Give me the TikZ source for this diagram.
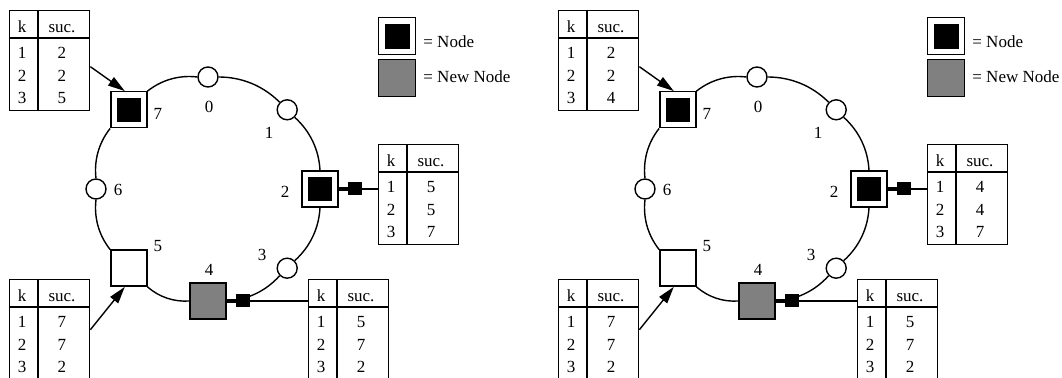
\documentclass[tikz,border=0pt]{standalone}
\usepackage{fontspec}
\setmainfont{Liberation Serif}
\usetikzlibrary{arrows.meta,calc}
\tikzset{
ring/.style  = {line width=0.7pt},
key/.style   = {draw, line width=0.7pt, circle, fill=white, minimum size=10pt, inner sep=0pt},
peer/.style  = {draw, line width=0.7pt, rectangle, fill=white, minimum size=18pt, inner sep=0pt},
live/.style  = {peer, path picture={\fill[black] ([shift={(3pt,3pt)}]path picture bounding box.south west) rectangle ([shift={(-3pt,-3pt)}]path picture bounding box.north east);}},
fresh/.style = {peer, fill=gray},
tab/.style   = {draw, line width=0.7pt, rectangle, minimum width=40pt, minimum height=50pt, inner sep=0pt},
txt/.style   = {font=\fontsize{8.5}{10}\selectfont, inner sep=0pt},
ptr/.style   = {-{Triangle[length=8.5pt,width=5pt]}, line width=0.7pt},
fing/.style  = {-{Rectangle[length=7pt,width=6.5pt]Rectangle[length=4.5pt,width=2pt]}, line width=0.7pt}
}
% successor table: name, top left corner, successors for k = 1,2,3
\newcommand{\suctab}[5]{%
  \node[tab, anchor=north west] (#1) at (#2) {};
  \draw[line width=0.7pt] ($(#1.north west)+(0,28)$) -- ($(#1.north east)+(0,28)$);
  \draw[line width=0.7pt] ($(#1.north west)+(29,0)$) -- ($(#1.south west)+(29,0)$);
  \node[txt, anchor=base] (#1-k) at ($(#1.north west)+(13,23)$) {k};
  \node[txt, anchor=base] (#1-s) at ($(#1.north west)+(53,23)$) {suc.};
  \foreach \r/\v [count=\n] in {1/#3,2/#4,3/#5} {
    \node[txt, anchor=base] (#1-k\n) at ($(#1.north west)+(13,26.5+22.5*\n)$) {\r};
    \node[txt, anchor=base] (#1-s\n) at ($(#1.north west)+(53,26.5+22.5*\n)$) {\v};
  }
}

\begin{document}
\begin{tikzpicture}[x=0.5pt, y=-0.5pt]
\clip (0,0) rectangle (1062,378);
\useasboundingbox (0,0) rectangle (1062,378);
% before and after node 4 joins
\foreach \p/\dx/\sv/\fv in {L/0/5/5, R/549/4/4} {
  \begin{scope}[shift={(\dx,0)}]
    \coordinate (\p-c) at (208,189);
    % keys 0..7 on the ring, clockwise from the top
    \foreach \i in {0,1,3,6}
      \node[key] (\p-n\i) at ($(\p-c)+(-90+45*\i:112)$) {};
    \node[live]  (\p-n2) at ($(\p-c)+(0:112)$) {};
    \node[fresh] (\p-n4) at ($(\p-c)+(90:112)$) {};
    \node[peer]  (\p-n5) at ($(\p-c)+(135:112)$) {};
    \node[live]  (\p-n7) at ($(\p-c)+(225:112)$) {};
    \foreach \i/\ox/\oy in {0/1/30, 1/-18/23, 2/-35/3, 3/-25/-13, 4/1/-31, 5/29/-22, 6/22/1, 7/29/4}
      \node[txt] (\p-l\i) at ($(\p-n\i)+(\ox,\oy)$) {\i};
    \foreach \i [evaluate=\i as \j using {int(mod(\i+1,8))}] in {0,...,7}
      \draw[ring] (\p-n\i) to[bend left=22.5, looseness=0.9] (\p-n\j);
    % finger tables
    \suctab{\p-t7}{9,10}{2}{2}{\sv}
    \suctab{\p-t2}{378,144}{\fv}{\fv}{7}
    \suctab{\p-t5}{9,279}{7}{7}{2}
    \suctab{\p-t4}{308,279}{5}{7}{2}
    \draw[ptr] ([yshift=-3pt]\p-t7.east) -- ([xshift=-2pt]\p-n7.north);
    \draw[ptr] (\p-t5.east) -- ([xshift=-2pt]\p-n5.south);
    \draw[fing] (\p-t2.west |- \p-n2) -- (\p-n2.east);
    \draw[fing] (\p-t4.west |- \p-n4) -- (\p-n4.east);
    % legend
    \node[live, minimum size=18.5pt, anchor=north west] (\p-k1) at (378,17) {};
    \node[fresh, minimum size=18.5pt, anchor=north west] (\p-k2) at (378,59) {};
    \node[txt, anchor=west] (\p-d1) at (423,42) {= Node};
    \node[txt, anchor=west] (\p-d2) at (423,77) {= New Node};
  \end{scope}
}
\end{tikzpicture}
\end{document}
